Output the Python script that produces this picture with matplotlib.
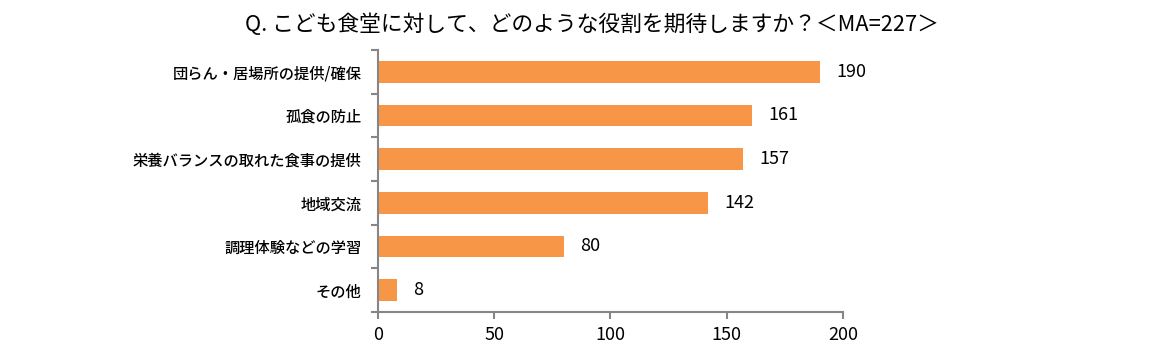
import matplotlib
matplotlib.use("Agg")
import matplotlib.pyplot as plt
import numpy as np

plt.rcParams['font.family'] = ['Noto Sans CJK JP', 'DejaVu Sans']

# data
categories = ["団らん・居場所の提供/確保", "孤食の防止", "栄養バランスの取れた食事の提供",
              "地域交流", "調理体験などの学習", "その他"]
values = [190, 161, 157, 142, 80, 8]
xticks = [0, 50, 100, 150, 200]
title = "Q. こども食堂に対して、どのような役割を期待しますか？＜MA=227＞"

bar_color = "#F79646"
axis_color = "#868686"

fig = plt.figure(figsize=(11.5, 3.64), dpi=100)
ax = fig.add_axes([0.3287, 0.1429, 0.4043, 0.7198])

y = np.arange(len(categories))
ax.barh(y, values, height=0.5, color=bar_color)
ax.set_ylim(len(categories) - 0.5, -0.5)
ax.set_xlim(0, 200)

for yi, v in zip(y, values):
    ax.text(v + 7, yi, str(v), va='center', ha='left', fontsize=13, color='black')

ax.set_yticks(y)
ax.set_yticklabels(categories, fontsize=11, fontweight='medium')
ax.tick_params(axis='y', which='major', length=0, pad=12)
ax.set_yticks(np.arange(-0.5, len(categories), 1), minor=True)
ax.tick_params(axis='y', which='minor', length=5, color=axis_color, width=1.5, direction='out')

ax.set_xticks(xticks)
ax.set_xticklabels([str(t) for t in xticks], fontsize=13)
ax.tick_params(axis='x', length=5, color=axis_color, width=1.5, direction='out', pad=5)

for s in ['top', 'right']:
    ax.spines[s].set_visible(False)
for s in ['left', 'bottom']:
    ax.spines[s].set_color(axis_color)
    ax.spines[s].set_linewidth(1.5)

fig.text(592 / 1150, 1 - 25 / 364, title, ha='center', va='center', fontsize=15.7)

fig.savefig("out.png", dpi=100)
